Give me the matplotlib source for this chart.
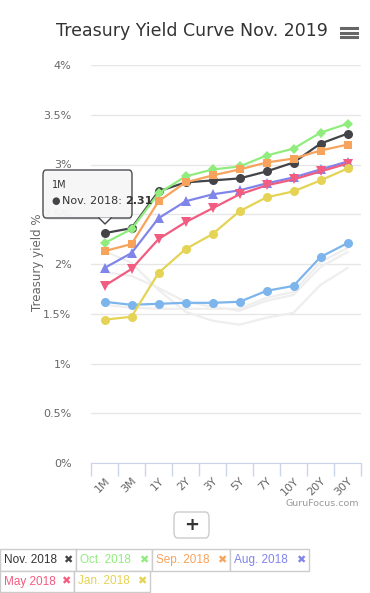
import matplotlib.pyplot as plt
from matplotlib.patches import FancyBboxPatch, Rectangle, Polygon
from matplotlib.lines import Line2D

# ============================================
# data
# ============================================
terms = ['1M', '3M', '1Y', '2Y', '3Y', '5Y', '7Y', '10Y', '20Y', '30Y']

nov_2019 = [1.62, 1.59, 1.60, 1.61, 1.61, 1.62, 1.73, 1.78, 2.07, 2.21]
nov_2018 = [2.31, 2.36, 2.73, 2.82, 2.84, 2.86, 2.93, 3.02, 3.21, 3.31]
oct_2018 = [2.21, 2.35, 2.71, 2.88, 2.95, 2.98, 3.09, 3.16, 3.32, 3.41]
sep_2018 = [2.13, 2.20, 2.63, 2.82, 2.89, 2.95, 3.02, 3.06, 3.14, 3.20]
aug_2018 = [1.96, 2.11, 2.46, 2.63, 2.70, 2.74, 2.81, 2.87, 2.95, 3.03]
may_2018 = [1.78, 1.95, 2.25, 2.42, 2.56, 2.70, 2.79, 2.85, 2.93, 3.01]
jan_2018 = [1.44, 1.47, 1.91, 2.15, 2.30, 2.53, 2.67, 2.73, 2.84, 2.96]

# hidden series (drawn grey)
hidden_a = [2.13, 2.01, 1.74, 1.52, 1.43, 1.39, 1.46, 1.51, 1.79, 1.96]
hidden_b = [1.92, 1.88, 1.76, 1.62, 1.57, 1.53, 1.63, 1.69, 1.97, 2.12]
hidden_c = [1.59, 1.56, 1.55, 1.55, 1.55, 1.55, 1.66, 1.72, 2.02, 2.16]

y_ticks = [0, 0.5, 1, 1.5, 2, 2.5, 3, 3.5, 4]
y_tick_labels = ['0%', '0.5%', '1%', '1.5%', '2%', '2.5%', '3%', '3.5%', '4%']

series = [
    ('Nov. 2019', nov_2019, '#7cb5ec', 'o', 6.5),
    ('Nov. 2018', nov_2018, '#434348', 'o', 6.5),
    ('Oct. 2018', oct_2018, '#90ed7d', 'D', 5),
    ('Sep. 2018', sep_2018, '#f7a35c', 's', 6),
    ('Aug. 2018', aug_2018, '#8085e9', '^', 6.5),
    ('May 2018', may_2018, '#f15c80', 'v', 6.5),
    ('Jan. 2018', jan_2018, '#e4d354', 'o', 6.5),
]

legend_rows = [
    [('Nov. 2018', '#333333', '#434348', 0, 76), ('Oct. 2018', '#90ed7d', '#90ed7d', 76, 152),
     ('Sep. 2018', '#f7a35c', '#f7a35c', 152, 230), ('Aug. 2018', '#8085e9', '#8085e9', 230, 309)],
    [('May 2018', '#f15c80', '#f15c80', 0, 74), ('Jan. 2018', '#e4d354', '#e4d354', 74, 150)],
]

W, H = 370, 593
fig = plt.figure(figsize=(W / 100, H / 100), dpi=100)
fig.patch.set_facecolor('white')

def fx(px):
    return px / W

def fy(py):
    return 1 - py / H

ax = fig.add_axes([fx(91), fy(463), fx(361) - fx(91), fy(65) - fy(463)])
x = list(range(len(terms)))

for s in (hidden_a, hidden_b, hidden_c):
    ax.plot(x, s, color='#eeeeee', lw=1.6, zorder=2)

for name, vals, col, mk, ms in series:
    ax.plot(x, vals, color=col, lw=1.6, marker=mk, markersize=ms,
            markeredgewidth=0, zorder=3, clip_on=False)

ax.set_xlim(-0.5, 9.5)
ax.set_ylim(0, 4)
ax.set_yticks(y_ticks)
ax.set_yticklabels(y_tick_labels)
ax.grid(axis='y', color='#e6e6e6', lw=1)
ax.set_axisbelow(True)
for sp in ['top', 'right', 'left']:
    ax.spines[sp].set_visible(False)
ax.spines['bottom'].set_color('#ccd6eb')
ax.tick_params(axis='y', length=0, pad=14, labelsize=8, labelcolor='#666666')

ax.set_xticks(x)
ax.set_xticklabels(terms, rotation=45, ha='right', va='top', rotation_mode='anchor')
ax.tick_params(axis='x', which='major', length=0, pad=9, labelsize=8, labelcolor='#666666')
ax.set_xticks([i - 0.5 for i in range(len(terms) + 1)], minor=True)
ax.tick_params(axis='x', which='minor', length=9, color='#ccd6eb', width=1)

fig.text(fx(37), fy(262), 'Treasury yield %', rotation=90, ha='center', va='center',
         fontsize=8.5, color='#666666')

# title + menu icon
fig.text(fx(192), fy(31), 'Treasury Yield Curve Nov. 2019', ha='center', va='center',
         fontsize=12.5, color='#333333')
for py in (28.3, 32.5, 36.7):
    fig.add_artist(Line2D([fx(341), fx(357)], [fy(py), fy(py)], color='#666666', lw=2.2))

fig.text(fx(359), fy(503), 'GuruFocus.com', ha='right', va='center', fontsize=6.8, color='#999999')

# tooltip
shadow = FancyBboxPatch((fx(45), fy(220)), fx(132) - fx(45), fy(172) - fy(220),
                        boxstyle='round,pad=0,rounding_size=0.008', transform=fig.transFigure,
                        facecolor='#000000', alpha=0.08, edgecolor='none', zorder=9)
fig.add_artist(shadow)
tip = FancyBboxPatch((fx(43), fy(218)), fx(132) - fx(43), fy(170) - fy(218),
                     boxstyle='round,pad=0,rounding_size=0.008', transform=fig.transFigure,
                     facecolor='#f7f7f7', alpha=0.95, edgecolor='#434348', lw=1, zorder=10)
fig.add_artist(tip)
fig.add_artist(Polygon([[fx(99), fy(217.5)], [fx(105), fy(224)], [fx(111), fy(217.5)]],
                       closed=True, transform=fig.transFigure, facecolor='#f7f7f7',
                       edgecolor='none', zorder=11))
fig.add_artist(Line2D([fx(99), fx(105), fx(111)], [fy(218), fy(224), fy(218)],
                      color='#434348', lw=1, zorder=11))
fig.text(fx(52), fy(185), '1M', fontsize=7, color='#333333', va='center', zorder=12)
fig.text(fx(51), fy(201), '\u25cf', fontsize=7, color='#434348', va='center', zorder=12)
t1 = fig.text(fx(62), fy(201), 'Nov. 2018:', fontsize=8, color='#333333', va='center', zorder=12)
r = fig.canvas.get_renderer()
ext = t1.get_window_extent(renderer=r)
fig.text(fx(ext.x1 + 3.5), fy(201), '2.31', fontsize=8, color='#333333', va='center',
         fontweight='bold', zorder=12)

# "+" button
fig.add_artist(FancyBboxPatch((fx(174), fy(538)), fx(209) - fx(174), fy(512) - fy(538),
                              boxstyle='round,pad=0,rounding_size=0.01', transform=fig.transFigure,
                              facecolor='white', edgecolor='#cccccc', lw=1))
fig.text(fx(191.5), fy(525), '+', ha='center', va='center', fontsize=13,
         fontweight='bold', color='#333333')

# legend buttons
row_y = [(549, 571), (571, 592)]
for (y0, y1), row in zip(row_y, legend_rows):
    for label, tcol, xcol, x0, x1 in row:
        fig.add_artist(Rectangle((fx(x0), fy(y1)), fx(x1) - fx(x0), fy(y0) - fy(y1),
                                 transform=fig.transFigure, facecolor='white',
                                 edgecolor='#cccccc', lw=1))
        fig.text(fx(x0 + 4), fy((y0 + y1) / 2), label, fontsize=8.5, color=tcol,
                 va='center', family=['Liberation Sans', 'DejaVu Sans'])
        fig.text(fx(x1 - 4), fy((y0 + y1) / 2), '\u2716', fontsize=8, color=xcol,
                 va='center', ha='right', family=['DejaVu Sans'])

plt.savefig('out.png', dpi=100)
